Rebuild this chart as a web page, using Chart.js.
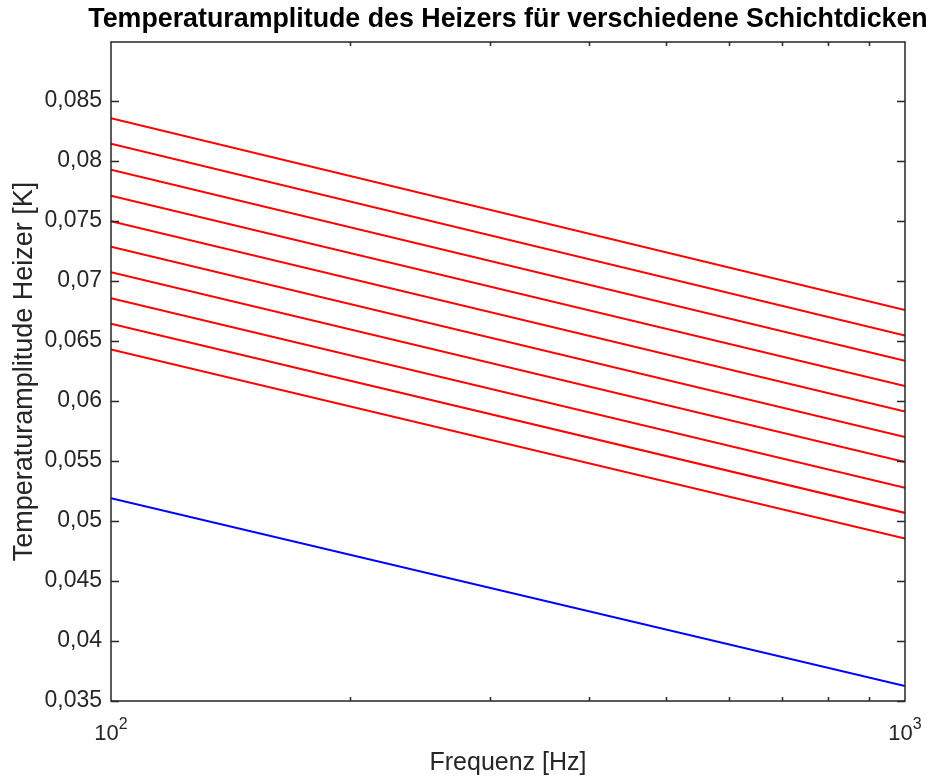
<!DOCTYPE html>
<html>
<head>
<meta charset="utf-8">
<script src="https://cdn.jsdelivr.net/npm/chart.js@4.4.1/dist/chart.umd.min.js"></script>
<style>
  html, body { margin: 0; padding: 0; background: #fff; }
  #wrap { width: 931px; height: 780px; }
</style>
</head>
<body>
<div id="wrap"><canvas id="lineChart"></canvas></div>
<script>
// Frequenzen (log. Achse), Endpunkte der Kurven
const frequencies = [100, 1000];

// rote Kurven (verschiedene Schichtdicken), Werte bei 100 Hz und 1000 Hz
const redAt100  = [0.08354, 0.08142, 0.07926, 0.07710, 0.07496, 0.07285, 0.07072, 0.06856, 0.06642, 0.06428];
const redAt1000 = [0.06758, 0.06545, 0.06334, 0.06123, 0.05912, 0.05699, 0.05491, 0.05277, 0.05067, 0.04853];

// blaue Kurve
const blueValues = [0.0519, 0.03625];

// Achsenbeschriftungen
const yTickValues = [0.035, 0.04, 0.045, 0.05, 0.055, 0.06, 0.065, 0.07, 0.075, 0.08, 0.085];
const yTickLabels = ['0,035', '0,04', '0,045', '0,05', '0,055', '0,06', '0,065', '0,07', '0,075', '0,08', '0,085'];
const xTickValues = [100, 1000];
const xTickBase = '10';
const xTickExponents = ['2', '3'];
const xMinorTicks = [200, 300, 400, 500, 600, 700, 800, 900];

const chartTitle = 'Temperaturamplitude des Heizers für verschiedene Schichtdicken';
const axisColor = '#262626';
const fontFamily = "'Liberation Sans', Arial, Helvetica, sans-serif";

function toPoints(vals) {
    return frequencies.map((f, i) => ({ x: f, y: vals[i] }));
}

let datasets = redAt100.map((v, i) => ({
    label: 'd' + (i + 1),
    data: toPoints([v, redAt1000[i]]),
    borderColor: '#ff0000',
    borderWidth: 2,
    pointRadius: 0,
    fill: false
}));
datasets.push({
    label: 'Referenz',
    data: toPoints(blueValues),
    borderColor: '#0000ff',
    borderWidth: 2,
    pointRadius: 0,
    fill: false
});

// Rahmen mit nach innen zeigenden Ticks (MATLAB-Stil), 10^n Beschriftung, Titel
const boxTicks = {
    id: 'boxTicks',
    afterDatasetsDraw(chart) {
        const { ctx, chartArea: a, scales: { x, y } } = chart;
        ctx.save();
        ctx.strokeStyle = axisColor;
        ctx.lineWidth = 1.5;
        ctx.strokeRect(a.left, a.top, a.right - a.left, a.bottom - a.top);
        ctx.beginPath();
        yTickValues.forEach(v => {
            const py = Math.round(y.getPixelForValue(v)) + 0.5;
            ctx.moveTo(a.left, py); ctx.lineTo(a.left + 8, py);
            ctx.moveTo(a.right, py); ctx.lineTo(a.right - 8, py);
        });
        xMinorTicks.forEach(v => {
            const px = Math.round(x.getPixelForValue(v)) + 0.5;
            ctx.moveTo(px, a.bottom); ctx.lineTo(px, a.bottom - 4);
            ctx.moveTo(px, a.top); ctx.lineTo(px, a.top + 4);
        });
        ctx.stroke();

        // x-Tick-Beschriftung 10^2, 10^3 mit hochgestelltem Exponenten
        ctx.fillStyle = axisColor;
        ctx.textBaseline = 'alphabetic';
        ctx.textAlign = 'left';
        xTickValues.forEach((v, i) => {
            const px = x.getPixelForValue(v);
            ctx.font = '22px ' + fontFamily;
            const wBase = ctx.measureText(xTickBase).width;
            ctx.font = '16px ' + fontFamily;
            const wExp = ctx.measureText(xTickExponents[i]).width;
            const start = px - (wBase + wExp) / 2;
            ctx.font = '22px ' + fontFamily;
            ctx.fillText(xTickBase, start, a.bottom + 39);
            ctx.font = '16px ' + fontFamily;
            ctx.fillText(xTickExponents[i], start + wBase, a.bottom + 28);
        });

        // Titel, zentriert über der Achsenfläche
        ctx.fillStyle = '#000';
        ctx.textAlign = 'center';
        ctx.font = 'bold 26.8px ' + fontFamily;
        ctx.fillText(chartTitle, (a.left + a.right) / 2, 27);
        ctx.restore();
    }
};

document.addEventListener('DOMContentLoaded', () => {
    let ctx = document.getElementById('lineChart').getContext('2d');
    new Chart(ctx, {
        type: 'line',
        data: { datasets: datasets },
        plugins: [boxTicks],
        options: {
            responsive: true,
            maintainAspectRatio: false,
            animation: false,
            layout: { padding: { left: 0, right: 26, top: 42, bottom: 0 } },
            plugins: {
                legend: { display: false },
                tooltip: { enabled: false },
                title: { display: false }
            },
            scales: {
                x: {
                    type: 'logarithmic',
                    min: 100,
                    max: 1000,
                    grid: { display: false, drawTicks: false },
                    border: { display: false },
                    afterBuildTicks: (scale) => { scale.ticks = xTickValues.map(v => ({ value: v })); },
                    afterFit: (scale) => { scale.height = 79; scale.paddingLeft = 0; scale.paddingRight = 0; },
                    ticks: {
                        autoSkip: false,
                        maxRotation: 0,
                        padding: 18,
                        color: axisColor,
                        font: { family: fontFamily, size: 22 },
                        callback: () => ''
                    },
                    title: {
                        display: true,
                        text: 'Frequenz [Hz]',
                        color: axisColor,
                        font: { family: fontFamily, size: 25, lineHeight: 1.2 },
                        padding: { top: 0, bottom: 2 }
                    }
                },
                y: {
                    min: 0.035,
                    max: 0.0899,
                    grid: { display: false, drawTicks: false },
                    border: { display: false },
                    afterBuildTicks: (scale) => { scale.ticks = yTickValues.map(v => ({ value: v })); },
                    afterFit: (scale) => { scale.width = 111; },
                    ticks: {
                        autoSkip: false,
                        padding: 9,
                        color: axisColor,
                        font: { family: fontFamily, size: 23 },
                        callback: (value) => {
                            const i = yTickValues.findIndex(v => Math.abs(v - value) < 1e-9);
                            return i >= 0 ? yTickLabels[i] : '';
                        }
                    },
                    title: {
                        display: true,
                        text: 'Temperaturamplitude Heizer [K]',
                        color: axisColor,
                        font: { family: fontFamily, size: 27, lineHeight: 1.2 },
                        padding: { top: 8, bottom: 0 }
                    }
                }
            }
        }
    });
});
</script>
</body>
</html>
